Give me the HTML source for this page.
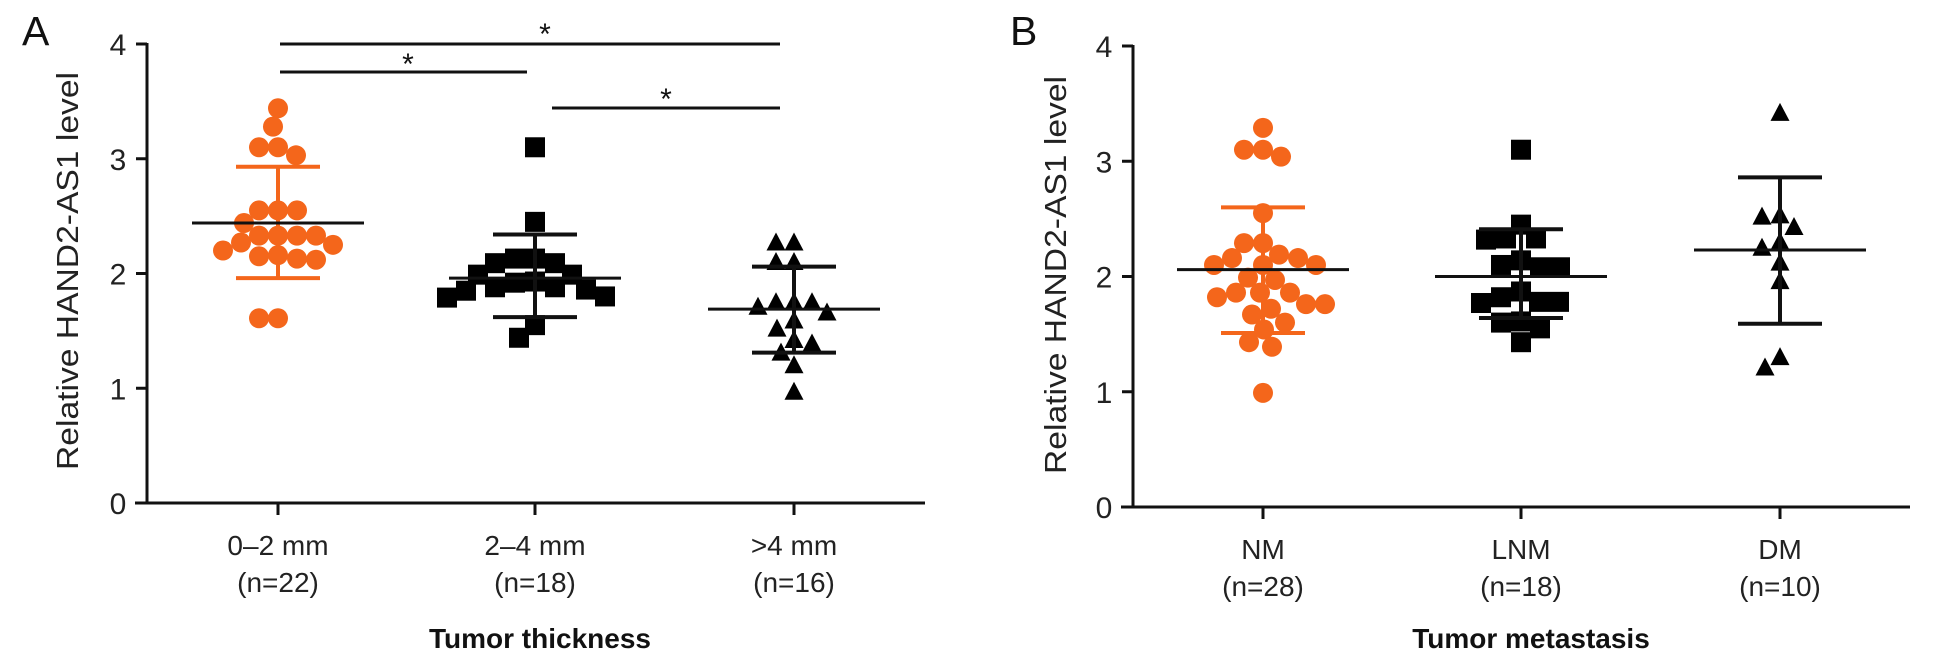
<!DOCTYPE html>
<html><head><meta charset="utf-8"><style>
html,body{margin:0;padding:0;background:#fff;}
svg{display:block;font-family:"Liberation Sans",Arial,sans-serif;}
</style></head><body>
<svg id="fig" width="1937" height="664" viewBox="0 0 1937 664" xmlns="http://www.w3.org/2000/svg">
<g id="panelA"></g>
<g id="panelB"></g>
</svg>
<script>
const NS="http://www.w3.org/2000/svg";
const ORANGE="#f4661b";
const yTicks=[0,1,2,3,4];
// Panel A data
const catsA=["0–2 mm","2–4 mm",">4 mm"];
const nA=["(n=22)","(n=18)","(n=16)"];
const a1=[3.44,3.28,3.10,3.10,3.03,2.55,2.55,2.55,2.44,2.33,2.33,2.33,2.33,2.27,2.25,2.20,2.16,2.13,2.12,2.15,1.61,1.61];
const a2=[3.10,2.45,2.13,2.13,2.09,2.09,1.99,1.99,1.93,1.92,1.88,1.88,1.86,1.85,1.80,1.79,1.55,1.44];
const a3=[2.27,2.27,2.10,2.10,1.75,1.75,1.75,1.71,1.66,1.59,1.52,1.39,1.42,1.31,1.20,0.97];
const meanA=[2.44,1.96,1.69];
const sdHiA=[2.93,2.34,2.06];
const sdLoA=[1.96,1.62,1.31];
// Panel B data
const catsB=["NM","LNM","DM"];
const nB=["(n=28)","(n=18)","(n=10)"];
const b1=[3.29,3.10,3.10,3.04,2.55,2.29,2.29,2.19,2.16,2.16,2.10,2.10,2.10,1.99,1.97,1.86,1.86,1.86,1.82,1.76,1.76,1.72,1.67,1.60,1.54,1.43,1.39,0.99];
const b2=[3.10,2.45,2.33,2.32,2.33,2.10,2.08,2.08,2.14,1.82,1.87,1.78,1.77,1.78,1.60,1.61,1.55,1.43];
const b3=[3.42,2.53,2.52,2.43,2.30,2.25,2.12,1.96,1.30,1.21];
const meanB=[2.06,2.00,2.23];
const sdHiB=[2.60,2.41,2.86];
const sdLoB=[1.51,1.64,1.59];

function el(parent,tag,attrs,text){const e=document.createElementNS(NS,tag);for(const k in attrs)e.setAttribute(k,attrs[k]);if(text!==undefined)e.textContent=text;parent.appendChild(e);return e;}

function swarm(vals,ys,D){
  const order=vals.map((v,i)=>i).sort((a,b)=>vals[b]-vals[a]);
  const placed=[];const xs=new Array(vals.length);
  for(const i of order){
    const y=ys(vals[i]);let chosen=0;
    for(let dx=0;dx<200;dx+=1){
      let found=false;
      for(const s of (dx===0?[0]:[-dx,dx])){
        let ok=true;
        for(const p of placed){const ddx=p.x-s,ddy=p.y-y;if(ddx*ddx+ddy*ddy<D*D){ok=false;break;}}
        if(ok){chosen=s;found=true;break;}
      }
      if(found)break;
    }
    placed.push({x:chosen,y:y});xs[i]=chosen;
  }
  return xs;
}

function panel(g,cfg){
  const y=v=>cfg.y0-(v/4)*(cfg.y0-cfg.y4);
  // axes
  const ya=el(g,'line',{x1:cfg.ax,y1:cfg.y4-1,x2:cfg.ax,y2:cfg.y0,stroke:'#111','stroke-width':3});
  
  
  const xa=el(g,'line',{x1:cfg.ax-12,y1:cfg.y0,x2:cfg.axEnd,y2:cfg.y0,stroke:'#111','stroke-width':3});
  
  
  yTicks.forEach(t=>{
    const tk=el(g,'line',{x1:cfg.ax-11,y1:y(t),x2:cfg.ax,y2:y(t),stroke:'#111','stroke-width':3});
    
    
    const tl=el(g,'text',{x:cfg.ax-29,y:y(t)+11,'font-size':30,'text-anchor':'middle',fill:'#222'},String(t));
    
    
  });
  const yt=el(g,'text',{x:0,y:0,'font-size':31,'text-anchor':'middle',fill:'#222',textLength:398,lengthAdjust:'spacingAndGlyphs',transform:`translate(${cfg.titleX},${cfg.titleY}) rotate(-90)`},'Relative HAND2-AS1 level');
  
  
  const pl=el(g,'text',{x:cfg.letterX,y:45,'font-size':41,fill:'#111'},cfg.letter);
  
  
  cfg.cats.forEach((c,i)=>{
    const cx=cfg.cx[i];
    const tk=el(g,'line',{x1:cx,y1:cfg.y0,x2:cx,y2:cfg.y0+12,stroke:'#111','stroke-width':3});
    
    
    const t1=el(g,'text',{x:cx,y:cfg.y0+52,'font-size':28,'text-anchor':'middle',fill:'#222'},c);
    
    
    const t2=el(g,'text',{x:cx,y:cfg.y0+89,'font-size':28,'text-anchor':'middle',fill:'#222'},cfg.ns[i]);
    
    
  });
  const xt=el(g,'text',{x:cfg.xTitleX,y:648,'font-size':28,'font-weight':'bold','text-anchor':'middle',fill:'#111'},cfg.xTitle);
  
  
  // groups
  cfg.groups.forEach((vals,gi)=>{
    const cx=cfg.cx[gi];const shape=cfg.shapes[gi];const col=gi===0?ORANGE:'#000';
    const D=shape==='circle'?19:(shape==='square'?20:18);
    const xs=swarm(vals,y,D);
    const gg=el(g,'g',{});
    
    
    vals.forEach((v,i)=>{
      const px=cx+xs[i],py=y(v);let m;
      if(shape==='circle')m=el(gg,'circle',{cx:px,cy:py,r:10,fill:col});
      else if(shape==='square')m=el(gg,'rect',{x:px-10,y:py-10,width:20,height:20,fill:col});
      else m=el(gg,'polygon',{points:`${px},${py-10} ${px+9.5},${py+8} ${px-9.5},${py+8}`,fill:col});
      
      
    });
    // error bars
    const ec=gi===0?ORANGE:'#111';
    const eb=el(g,'g',{stroke:ec,'stroke-width':4});
    
    
    el(eb,'line',{x1:cx,y1:y(cfg.hi[gi]),x2:cx,y2:y(cfg.lo[gi])});
    el(eb,'line',{x1:cx-42,y1:y(cfg.hi[gi]),x2:cx+42,y2:y(cfg.hi[gi])});
    el(eb,'line',{x1:cx-42,y1:y(cfg.lo[gi]),x2:cx+42,y2:y(cfg.lo[gi])});
    const ml=el(g,'line',{x1:cx-86,y1:y(cfg.mean[gi]),x2:cx+86,y2:y(cfg.mean[gi]),stroke:'#111','stroke-width':3});
    
    
  });
}

panel(document.getElementById('panelA'),{ax:147,axEnd:925,y0:503,y4:44,cx:[278,535,794],cats:catsA,ns:nA,
  groups:[a1,a2,a3],shapes:['circle','square','triangle'],mean:meanA,hi:sdHiA,lo:sdLoA,
  titleX:78,titleY:271,letter:'A',letterX:22,xTitle:'Tumor thickness',xTitleX:540});
panel(document.getElementById('panelB'),{ax:1133,axEnd:1910,y0:507,y4:46,cx:[1263,1521,1780],cats:catsB,ns:nB,
  groups:[b1,b2,b3],shapes:['circle','square','triangle'],mean:meanB,hi:sdHiB,lo:sdLoB,
  titleX:1066,titleY:275,letter:'B',letterX:1010,xTitle:'Tumor metastasis',xTitleX:1531});

// significance bars (panel A)
const A=document.getElementById('panelA');
const sig=[{x1:280,x2:780,y:44,sx:545,sy:32},{x1:280,x2:527,y:72,sx:408,sy:62},{x1:552,x2:780,y:108,sx:666,sy:97}];
sig.forEach(s=>{
  const l=el(A,'line',{x1:s.x1,y1:s.y,x2:s.x2,y2:s.y,stroke:'#111','stroke-width':3});
  
  
  const t=el(A,'text',{x:s.sx,y:s.sy+12,'font-size':30,'text-anchor':'middle',fill:'#111'},'*');
  
  
});
</script>
</body></html>
